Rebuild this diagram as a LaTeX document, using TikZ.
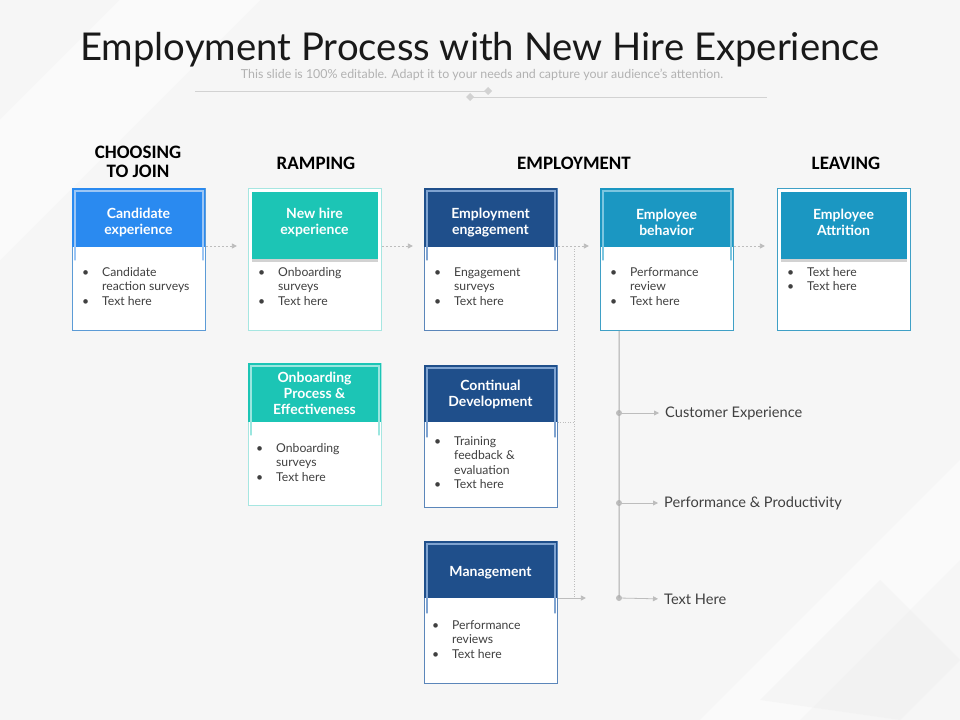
\documentclass[tikz,border=0pt]{standalone}
\usepackage{fontspec}
\setmainfont{Lato}
\newfontfamily\phasefont{Carlito}
\usetikzlibrary{arrows.meta,shadows}
\definecolor{bgc}{HTML}{F6F6F6}
\definecolor{hblue}{HTML}{2A8AF0}
\definecolor{bblue}{HTML}{5C9BD6}
\definecolor{iblue}{HTML}{9CC6F5}
\definecolor{hteal}{HTML}{1CC5B5}
\definecolor{bteal}{HTML}{A6E6E1}
\definecolor{iteal}{HTML}{9BE6DF}
\definecolor{hnavy}{HTML}{1F4F8B}
\definecolor{bnavy}{HTML}{5B86BA}
\definecolor{inavy}{HTML}{7FA3D0}
\definecolor{hcyan}{HTML}{1B97C2}
\definecolor{bcyan}{HTML}{3FA0C6}
\definecolor{icyan}{HTML}{7CC6E0}
\definecolor{txt}{HTML}{404040}
\definecolor{conn}{HTML}{BDBDBD}
\definecolor{deco}{HTML}{D2D2D2}
\newcommand\blist[1]{\begin{tabular}[t]{@{}p{20bp}@{}l@{}}#1\end{tabular}}
\begin{document}
\begin{tikzpicture}[x=1bp,y=-1bp,
  frame/.style={draw=#1, fill=white, line width=0.9bp, minimum width=133bp, minimum height=142bp, inner sep=0pt, anchor=north west},
  head/.style={fill=#1, minimum width=133bp, minimum height=59bp, inner sep=0pt, anchor=north west},
  htext/.style={text=white, font=\fontsize{14bp}{16bp}\selectfont\bfseries, align=center, inner sep=0pt},
  raised/.style={minimum width=126bp, minimum height=67bp, drop shadow={shadow xshift=0bp, shadow yshift=-3bp, opacity=0.35}},
  innerf/.style={draw=#1, line width=1.3bp, line cap=round},
  bul/.style={anchor=base west, inner sep=0pt, text=txt, font=\fontsize{12.2bp}{14.5bp}\selectfont},
  phase/.style={font=\phasefont\bfseries\fontsize{19bp}{19bp}\selectfont, text=black, align=center, inner sep=0pt},
  flowd/.style={draw=conn, line width=0.8bp, dash pattern=on 2.5bp off 1.5bp, -{Triangle[width=5bp,length=5bp]}},
  flows/.style={draw=conn, line width=0.8bp, -{Triangle[width=5bp,length=5bp]}},
  dotl/.style={draw=conn, line width=0.8bp, dash pattern=on 1bp off 1.5bp},
  vl/.style={draw=conn!90!black, line width=1bp},
  dotn/.style={circle, fill=conn, minimum size=6bp, inner sep=0pt},
  lab/.style={anchor=west, inner sep=0pt, text=txt, font=\fontsize{14.6bp}{16bp}\selectfont}
]
\useasboundingbox (0,0) rectangle (960,720);
\fill[bgc] (0,0) rectangle (960,720);
% faint background diamonds
\fill[white, opacity=0.5] (0,120) -- (120,0) -- (260,0) -- (0,260) -- cycle;
\fill[white, opacity=0.45] (700,720) -- (960,460) -- (960,560) -- (800,720) -- cycle;
\fill[gray!15, opacity=0.3] (760,700) -- (880,580) -- (960,660) -- (900,720) -- cycle;

% title
\node[anchor=base, inner sep=0pt, font=\fontsize{38.3bp}{42bp}\selectfont, text=black!90] (title) at (480,61) {Employment Process with New Hire Experience};
\node[anchor=base, inner sep=0pt, font=\fontsize{12.4bp}{14bp}\selectfont, text=black!30] (sub) at (482,79) {This slide is 100\% editable. Adapt it to your needs and capture your audience's attention.};
\coordinate (dl1) at (195,91);
\coordinate (dr1) at (488,91);
\coordinate (dl2) at (470,97);
\coordinate (dr2) at (767,97);
\draw[deco, line width=0.8bp] (dl1) -- (dr1);
\draw[deco, line width=0.8bp] (dl2) -- (dr2);
\fill[deco] (dr1) ++(-4,0) -- ++(4,-4) -- ++(4,4) -- ++(-4,4) -- cycle;
\fill[deco] (dl2) ++(-4,0) -- ++(4,-4) -- ++(4,4) -- ++(-4,4) -- cycle;

% phases
\node[phase] (p1) at (138,162) {CHOOSING\\TO JOIN};
\node[phase] (p2) at (316,163) {RAMPING};
\node[phase] (p3) at (574,163) {EMPLOYMENT};
\node[phase] (p4) at (846,163) {LEAVING};

% box 1
\node[frame=bblue] (b1) at (72,188) {};
\node[head=hblue] (h1) at (72,188) {};
\draw[innerf=iblue] ([shift={(3,72)}]b1.north west) -- ([shift={(3,3)}]b1.north west) -- ([shift={(-3,3)}]b1.north east) -- ([shift={(-3,72)}]b1.north east);
\node[htext] (h1t) at (138.5,222.5) {Candidate\\experience};
\node[bul] (t1) at (82,276) {\blist{•&Candidate\\&reaction surveys\\•&Text here}};

% box 2
\node[frame=bteal] (b2) at (248,188) {};
\node[head=hteal, raised] (h2) at (252,192) {};
\node[htext] (h2t) at (314.5,222.5) {New hire\\experience};
\node[bul] (t2) at (258,276) {\blist{•&Onboarding\\&surveys\\•&Text here}};

% box 3
\node[frame=bnavy] (b3) at (424,188) {};
\node[head=hnavy] (h3) at (424,188) {};
\draw[innerf=inavy] ([shift={(3,72)}]b3.north west) -- ([shift={(3,3)}]b3.north west) -- ([shift={(-3,3)}]b3.north east) -- ([shift={(-3,72)}]b3.north east);
\node[htext] (h3t) at (490.5,222.5) {Employment\\engagement};
\node[bul] (t3) at (434,276) {\blist{•&Engagement\\&surveys\\•&Text here}};

% box 4
\node[frame=bcyan] (b4) at (600,188) {};
\node[head=hcyan] (h4) at (600,188) {};
\draw[innerf=icyan] ([shift={(3,72)}]b4.north west) -- ([shift={(3,3)}]b4.north west) -- ([shift={(-3,3)}]b4.north east) -- ([shift={(-3,72)}]b4.north east);
\node[htext] (h4t) at (666.5,222.5) {Employee\\behavior};
\node[bul] (t4) at (610,276) {\blist{•&Performance\\&review\\•&Text here}};

% box 5
\node[frame=bcyan] (b5) at (777,188) {};
\node[head=hcyan, raised] (h5) at (781,192) {};
\node[htext] (h5t) at (843.5,222.5) {Employee\\Attrition};
\node[bul] (t5) at (787,276) {\blist{•&Text here\\•&Text here}};

% box 6
\node[frame=bteal] (b6) at (248,363) {};
\node[head=hteal] (h6) at (248,363) {};
\draw[innerf=iteal] ([shift={(3,72)}]b6.north west) -- ([shift={(3,3)}]b6.north west) -- ([shift={(-3,3)}]b6.north east) -- ([shift={(-3,72)}]b6.north east);
\node[htext] (h6t) at (314.5,393.5) {Onboarding\\Process \&\\Effectiveness};
\node[bul] (t6) at (256,452) {\blist{•&Onboarding\\&surveys\\•&Text here}};

% box 7
\node[frame=bnavy] (b7) at (424,365) {};
\node[head=hnavy, minimum height=57bp] (h7) at (424,365) {};
\draw[innerf=inavy] ([shift={(3,72)}]b7.north west) -- ([shift={(3,3)}]b7.north west) -- ([shift={(-3,3)}]b7.north east) -- ([shift={(-3,72)}]b7.north east);
\node[htext] (h7t) at (490.5,394.5) {Continual\\Development};
\node[bul] (t7) at (434,445) {\blist{•&Training\\&feedback \&\\&evaluation\\•&Text here}};

% box 8
\node[frame=bnavy] (b8) at (424,541) {};
\node[head=hnavy, minimum height=57bp] (h8) at (424,541) {};
\draw[innerf=inavy] ([shift={(3,72)}]b8.north west) -- ([shift={(3,3)}]b8.north west) -- ([shift={(-3,3)}]b8.north east) -- ([shift={(-3,72)}]b8.north east);
\node[htext] (h8t) at (490.5,572.5) {Management};
\node[bul] (t8) at (432,629) {\blist{•&Performance\\&reviews\\•&Text here}};

% connectors between stages
\draw[flowd] ([shift={(0,58)}]b1.north east) -- ++(31,0);
\draw[flowd] ([shift={(0,58)}]b2.north east) -- ++(31,0);
\draw[flowd] ([shift={(0,58)}]b3.north east) -- ++(31,0);
\draw[flowd] ([shift={(0,58)}]b4.north east) -- ++(31,0);

\coordinate (jt) at ([shift={(16,58)}]b3.north east);
\coordinate (jb) at ([shift={(16,57)}]b8.north east);
\draw[dotl] (jt) -- (jb);
\draw[dotl] ([shift={(0,57)}]b7.north east) -- ++(16,0);
\draw[flows] ([shift={(0,57)}]b8.north east) -- ++(28,0);

% outcomes
\node[dotn] (d1) at (619,413) {};
\node[dotn] (d2) at (619,503) {};
\node[dotn] (d3) at (619,598) {};
\draw[vl] ([xshift=19bp]b4.south west) -- (d3.center);
\node[lab] (l1) at (665,413) {Customer Experience};
\node[lab] (l2) at (664,503) {Performance \& Productivity};
\node[lab] (l3) at (664,599) {Text Here};
\draw[flows, shorten >=6bp] (d1.center) -- (l1.west);
\draw[flows, shorten >=6bp] (d2.center) -- (l2.west);
\draw[flows, shorten >=6bp] (d3.center) -- (l3.west);
\end{tikzpicture}
\end{document}
